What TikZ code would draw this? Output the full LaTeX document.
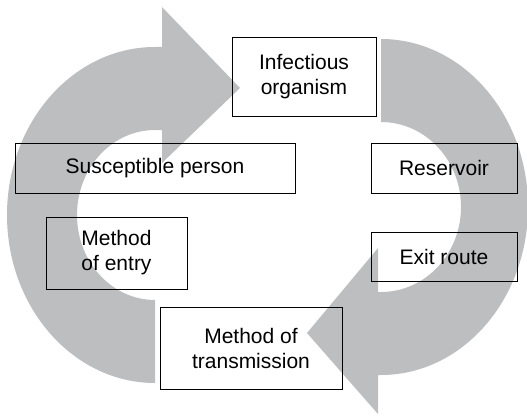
\documentclass[tikz,border=0pt]{standalone}
\usepackage{fontspec}
\setmainfont{Liberation Sans}
\definecolor{arrowgray}{RGB}{188,190,192}
\begin{document}
\begin{tikzpicture}[x=1pt,y=1pt,
  box/.style={draw=black, line width=0.8pt, inner sep=0pt, align=center,
    font=\fontsize{21}{25}\selectfont},
  bigarrow/.style={fill=arrowgray, draw=none}]
\useasboundingbox (0,0) rectangle (527,416);
% left curved arrow (bottom -> left -> top, pointing right)
\fill[bigarrow] (155,33) arc[start angle=270, end angle=90, x radius=148, y radius=168]
  -- (162,369) -- (162,409) -- (240,328) -- (162,253) -- (162,286) -- (155,286)
  arc[start angle=90, end angle=270, x radius=78, y radius=85] -- cycle;
% right curved arrow (top -> right -> bottom, pointing left)
\fill[bigarrow] (381,377) arc[start angle=90, end angle=-90, x radius=147, y radius=168]
  -- (378,41) -- (378,2) -- (307,83) -- (378,168) -- (378,124) -- (381,124)
  arc[start angle=-90, end angle=90, x radius=80, y radius=85] -- cycle;
% boxes
\node[box, minimum width=144pt, minimum height=79pt] (io) at (304,339.5) {Infectious\\organism};
\node[box, minimum width=280pt, minimum height=50pt] (sp) at (155,248) {Susceptible person};
\node[box, minimum width=146pt, minimum height=50pt] (res) at (444,248) {Reservoir};
\node[box, minimum width=141pt, minimum height=72pt] (moe) at (116.5,163) {Method\\of entry};
\node[box, minimum width=146pt, minimum height=49pt] (exit) at (444,159.5) {Exit route};
\node[box, minimum width=182pt, minimum height=82pt] (mot) at (251,68) {Method of\\transmission};
\end{tikzpicture}
\end{document}
